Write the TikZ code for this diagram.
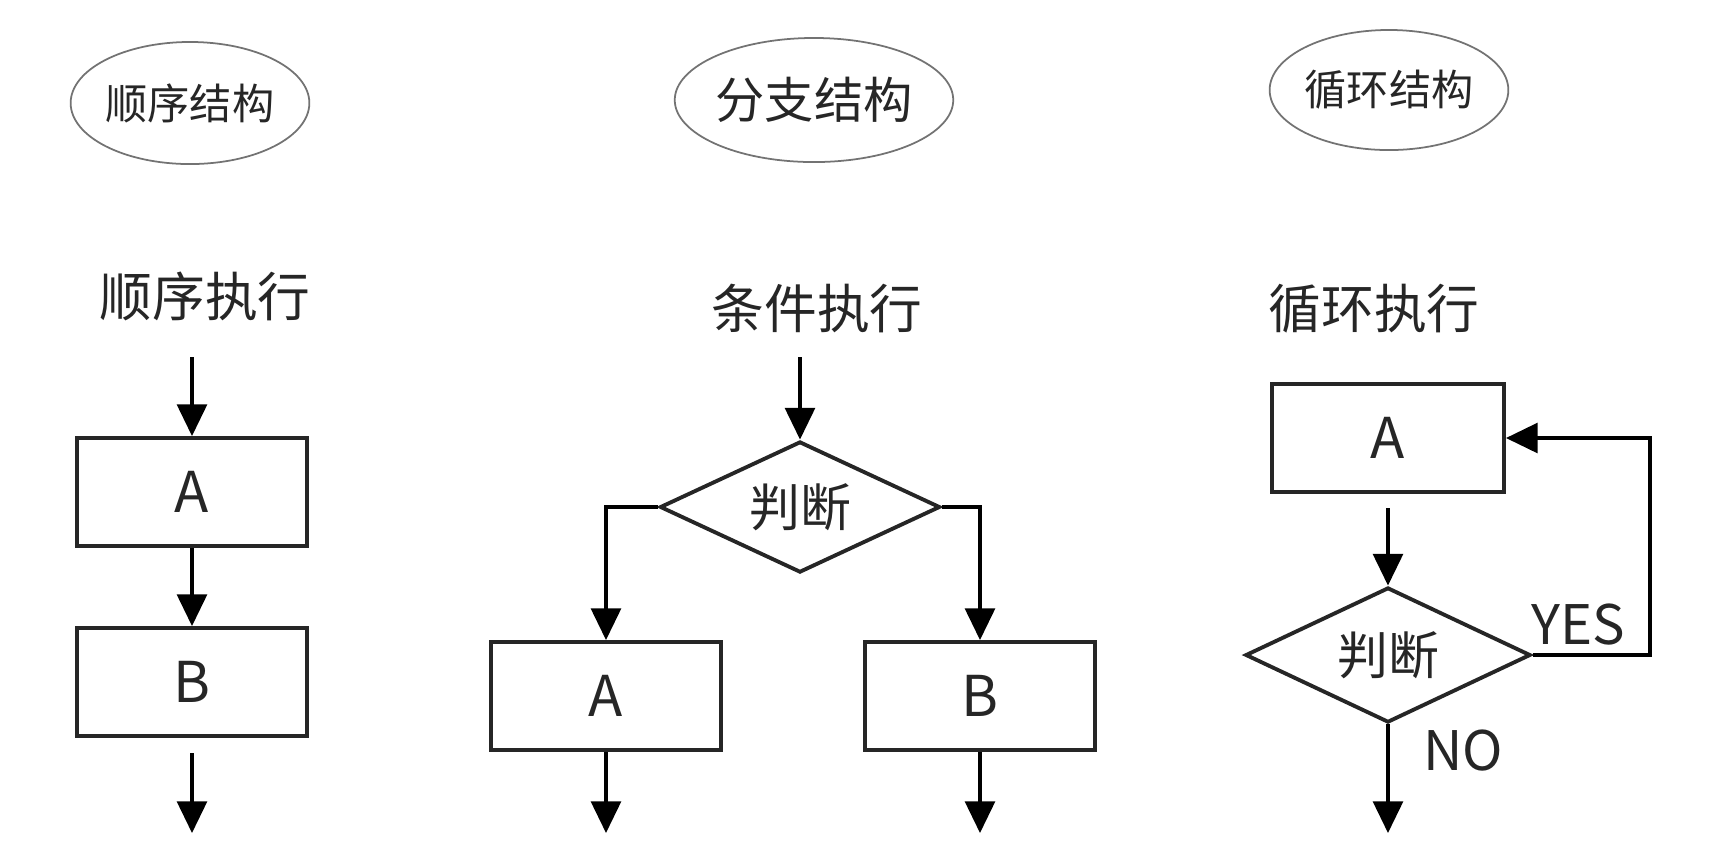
\documentclass[tikz,border=0pt]{standalone}
\usepackage{fontspec}
\setmainfont{Noto Sans CJK SC}
\usetikzlibrary{shapes.geometric,arrows.meta}
\begin{document}
\begin{tikzpicture}[
        x=0.01cm, y=-0.01cm,
        every node/.style={text=black!85, inner sep=0pt},
        oval/.style={draw=black!55, line width=0.5pt, ellipse, minimum width=2.36cm, minimum height=1.22cm, font=\fontsize{12}{14}\selectfont},
        heading/.style={font=\fontsize{15}{18}\selectfont},
        box/.style={draw=black!85, line width=1.1pt, rectangle, minimum width=2.3cm, minimum height=1.08cm, font=\fontsize{16}{18}\selectfont},
        decision/.style={draw=black!85, line width=1.1pt, diamond, aspect=2.2, minimum width=2.8cm, minimum height=1.31cm, font=\fontsize{14.5}{16}\selectfont},
        tag/.style={font=\fontsize{15.5}{18}\selectfont},
        arr/.style={draw=black, line width=0.9pt, -{Triangle[width=8.5pt,length=9pt]}},
    ]
    \useasboundingbox (0,0) rectangle (1723,853);
    \node[oval](seqtitle) at (190,103){顺序结构};
    \node[heading](seqlabel) at (205,296){顺序执行};
    \coordinate (seqin) at (192,357);
    \node[box](seqA) at (192,492){A};
    \node[box](seqB) at (192,682){B};
    \coordinate (seqout) at (192,833);
    \draw[arr] (seqin) -- (seqA.north);
    \draw[arr] (seqA.south) -- (seqB.north);
    \draw[arr, shorten <=4.3pt] (seqB.south) -- (seqout);

    \node[oval, minimum width=2.38cm, minimum height=1.24cm, font=\fontsize{14}{16}\selectfont](branchtitle) at (814,100){分支结构};
    \node[heading](branchlabel) at (817,308){条件执行};
    \coordinate (branchin) at (800,357);
    \node[decision](branchtest) at (800,507){判断};
    \node[box](branchA) at (606,696){A};
    \node[box](branchB) at (980,696){B};
    \coordinate (branchAout) at (606,833);
    \coordinate (branchBout) at (980,833);
    \draw[arr] (branchin) -- (branchtest.north);
    \draw[arr] (branchtest.west) -| (branchA.north);
    \draw[arr] (branchtest.east) -| (branchB.north);
    \draw[arr] (branchA.south) -- (branchAout);
    \draw[arr] (branchB.south) -- (branchBout);

    \node[oval, minimum width=2.35cm, minimum height=1.2cm](looptitle) at (1389,90){循环结构};
    \node[heading](looplabel) at (1374,309){循环执行};
    \node[box, minimum width=2.32cm](loopA) at (1388,438){A};
    \node[decision, minimum width=2.85cm, minimum height=1.35cm](looptest) at (1388,655){判断};
    \coordinate (loopturn) at (1650,655);
    \coordinate (loopout) at (1388,833);
    \node[tag](yes) at (1578,625){YES};
    \node[tag](no) at (1463,751){NO};
    \draw[arr, shorten <=4pt] (loopA.south) -- (looptest.north);
    \draw[arr] (looptest.east) -- (loopturn) |- (loopA.east);
    \draw[arr] (looptest.south) -- (loopout);
\end{tikzpicture}
\end{document}
